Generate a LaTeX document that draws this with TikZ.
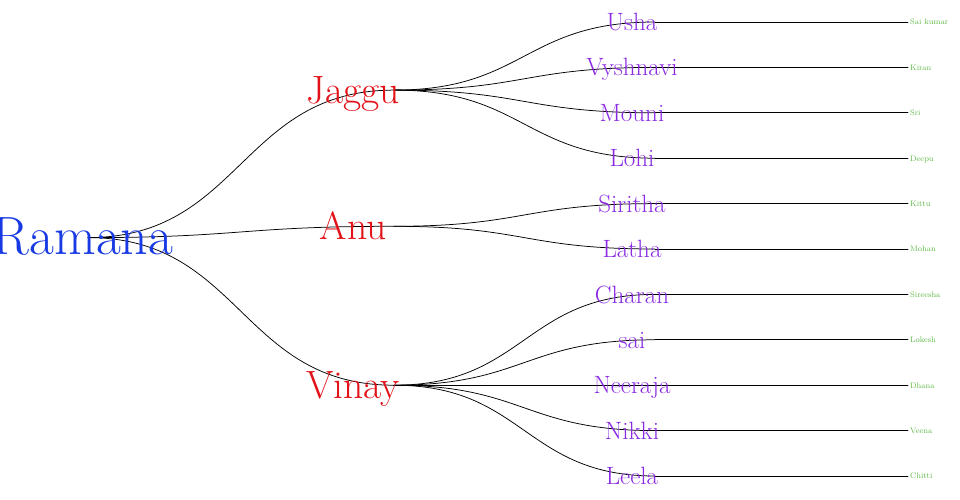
\documentclass[tikz,border=0pt]{standalone}
\definecolor{rootblue}{RGB}{24,58,228}
\definecolor{kidred}{RGB}{226,18,24}
\definecolor{grandpurple}{RGB}{138,43,226}
\definecolor{leafgreen}{RGB}{96,186,72}
\tikzset{
  link/.style={draw=black,line width=0.75pt},
  rootname/.style={anchor=base,inner sep=0pt,text=rootblue,font=\fontsize{54}{54}\selectfont,yshift=-17pt},
  kidname/.style={anchor=base,inner sep=0pt,text=kidred,font=\fontsize{39.5}{39.5}\selectfont,yshift=-13.3pt},
  grandname/.style={anchor=base,inner sep=0pt,text=grandpurple,font=\fontsize{25}{25}\selectfont,yshift=-8.6pt},
  leafname/.style={anchor=base west,inner sep=0pt,text=leafgreen,font=\fontsize{8}{8}\selectfont,yshift=-2.8pt}
}
\begin{document}
\begin{tikzpicture}[x=1pt,y=-1pt,line join=round,line cap=round]
\useasboundingbox (0,0) rectangle (960,500);
\clip (0,0) rectangle (960,500);
% junction points
\coordinate (ramana) at (88,237.6);
\coordinate (jaggu) at (394,90.1);
\coordinate (anu) at (394,226.3);
\coordinate (vinay) at (394,385.2);
\foreach \who/\y in {usha/22,vyshnavi/67.4,mouni/112.8,lohi/158.2,siritha/203.6,latha/249,
  charan/294.4,sai/339.8,neeraja/385.2,nikki/430.6,leela/476}
  \coordinate (\who) at (655,\y);
\foreach \who/\y in {saikumar/22,kiran/67.4,sri/112.8,deepu/158.2,kittu/203.6,mohan/249,
  sireesha/294.4,lokesh/339.8,dhana/385.2,veena/430.6,chitti/476}
  \coordinate (\who) at (908,\y);
% links
\foreach \kid in {jaggu,anu,vinay}
  \draw[link] (ramana) .. controls +(153,0) and +(-153,0) .. (\kid);
\foreach \kid in {usha,vyshnavi,mouni,lohi}
  \draw[link] (jaggu) .. controls +(130.5,0) and +(-130.5,0) .. (\kid);
\foreach \kid in {siritha,latha}
  \draw[link] (anu) .. controls +(130.5,0) and +(-130.5,0) .. (\kid);
\foreach \kid in {charan,sai,neeraja,nikki,leela}
  \draw[link] (vinay) .. controls +(130.5,0) and +(-130.5,0) .. (\kid);
\foreach \a/\b in {usha/saikumar,vyshnavi/kiran,mouni/sri,lohi/deepu,siritha/kittu,latha/mohan,
  charan/sireesha,sai/lokesh,neeraja/dhana,nikki/veena,leela/chitti}
  \draw[link] (\a) -- (\b);
% names
\node[rootname] (t-ramana) at (83,237.6) {Ramana};
\node[kidname] (t-jaggu) at (353,90.1) {Jaggu};
\node[kidname] (t-anu) at (353,226.3) {Anu};
\node[kidname] (t-vinay) at (353,385.2) {Vinay};
\foreach \y/\txt in {22/Usha,67.4/Vyshnavi,112.8/Mouni,158.2/Lohi,203.6/Siritha,249/Latha,
  294.4/Charan,339.8/sai,385.2/Neeraja,430.6/Nikki,476/Leela}
  \node[grandname] at (632,\y) {\txt};
\foreach \y/\txt in {22/Sai kumar,67.4/Kiran,112.8/Sri,158.2/Deepu,203.6/Kittu,249/Mohan,
  294.4/Sireesha,339.8/Lokesh,385.2/Dhana,430.6/Veena,476/Chitti}
  \node[leafname] at (910,\y) {\txt};
\end{tikzpicture}
\end{document}
